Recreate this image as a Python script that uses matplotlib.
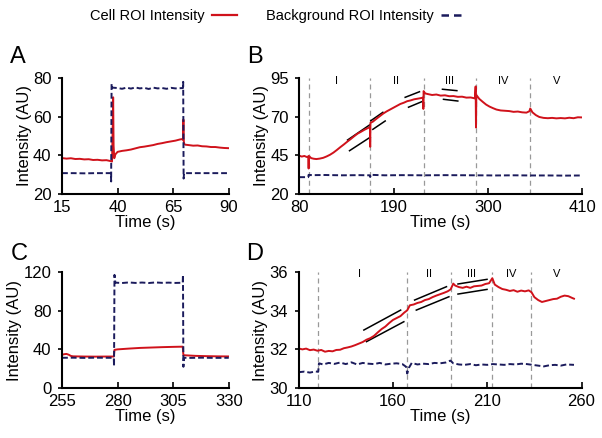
import matplotlib.pyplot as plt
from matplotlib.lines import Line2D

plt.rcParams['font.family'] = ['Liberation Sans', 'DejaVu Sans']

RED = '#d0121b'
NAVY = '#1b1b5c'

# ---- panel A (t, intensity) ----
cell_a = [(15, 38.6), (17, 38.3), (19, 38.5), (21, 38.1), (23, 38.2), (25, 37.9), (27, 38.0),
          (29, 37.6), (31, 37.7), (33, 37.4), (35, 37.5), (37, 37.0), (37.5, 36.8), (37.8, 55),
          (38.0, 70), (38.2, 45), (38.5, 38.5), (39, 40.5), (40, 41.8), (42, 42.3), (44, 42.6),
          (46, 43.0), (48, 43.6), (50, 44.2), (52, 44.5), (54, 44.9), (56, 45.3), (58, 45.9),
          (60, 46.3), (62, 46.8), (64, 47.2), (66, 47.6), (68, 48.2), (69, 48.4), (69.4, 48.0),
          (69.6, 58.5), (69.8, 47), (70, 45.8), (70.5, 45.5), (72, 45.3), (74, 45.0), (76, 45.1),
          (78, 44.7), (80, 44.6), (82, 44.3), (84, 44.3), (86, 44.0), (88, 43.8), (90, 43.7)]
back_a = [(15, 30.8), (20, 30.8), (25, 30.7), (30, 30.8), (35, 30.8), (37.0, 30.8), (37.1, 26.5),
          (37.3, 77), (37.6, 75), (40, 74.8), (42, 74.4), (44, 75.0), (46, 74.5), (48, 75.1),
          (50, 74.6), (52, 74.9), (54, 74.3), (56, 75.0), (58, 74.6), (60, 74.8), (62, 74.4),
          (64, 74.9), (66, 74.6), (68, 74.7), (69.4, 74.8), (69.5, 78), (69.7, 28), (69.9, 30.8),
          (72, 30.8), (75, 30.8), (80, 30.8), (85, 30.8), (90, 30.8)]

# ---- panel B ----
cell_b = [(80, 44.8), (83, 44.2), (86, 44.6), (89, 43.9), (90.5, 44.3), (91, 36.5), (91.5, 44.5),
          (94, 43.2), (97, 42.8), (100, 42.6), (104, 42.9), (108, 43.4), (112, 44.3), (116, 45.4),
          (120, 46.8), (124, 48.5), (128, 50.3), (132, 52.0), (136, 53.8), (140, 55.5), (144, 57.3),
          (148, 59.0), (152, 60.2), (156, 61.5), (160, 62.6), (162.5, 63.2), (162.8, 50.5),
          (163.1, 66.0), (166, 66.8), (170, 68.6), (174, 70.3), (178, 72.0), (182, 73.4),
          (186, 74.6), (190, 75.8), (194, 77.0), (198, 78.2), (202, 79.0), (206, 80.0), (210, 80.5),
          (214, 81.2), (218, 81.6), (222, 82.0), (224.5, 82.3), (224.8, 75.0), (225.1, 86.5),
          (227, 85.0), (230, 84.6), (235, 84.0), (240, 84.3), (245, 83.6), (250, 83.8), (255, 83.2),
          (260, 83.3), (265, 82.8), (270, 82.9), (275, 82.3), (280, 82.4), (285, 81.8),
          (285.8, 89.5), (286.2, 63), (286.6, 84), (290, 81.5), (294, 79.6), (298, 77.8),
          (302, 76.5), (306, 75.5), (310, 74.6), (315, 74.0), (320, 73.8), (325, 73.6), (330, 73.1),
          (335, 73.3), (340, 72.8), (345, 72.6), (348.5, 73.5), (349.5, 75.3), (352, 72.8),
          (356, 71.0), (360, 69.8), (365, 69.2), (370, 69.0), (375, 69.2), (380, 68.9), (385, 69.1),
          (390, 68.9), (395, 69.3), (400, 69.0), (405, 69.6), (410, 69.5)]
back_b = [(80, 30.9), (85, 30.9), (90.5, 30.9), (91, 32.4), (95, 32.2), (110, 32.3), (130, 32.1),
          (150, 32.2), (162.5, 32.1), (162.8, 31.0), (163.2, 32.4), (180, 32.1), (200, 32.2),
          (225, 32.1), (250, 32.2), (286, 32.1), (310, 32.0), (330, 32.1), (350, 32.0), (370, 32.0),
          (390, 31.9), (410, 32.0)]
sections_b = [91, 163, 225, 286, 349]
roman_b = [(123, 'I'), (193, 'II'), (255, 'III'), (318, 'IV'), (380, 'V')]
guides_b = [((136.4, 54.9), (162, 64.6)), ((138.7, 48.0), (162.8, 56.7)),
            ((163.6, 67.4), (177.6, 72.8)), ((165.9, 61.8), (180.3, 67.2)),
            ((203.6, 82.5), (220.3, 86.1)), ((207.5, 76.1), (223.1, 79.7)),
            ((247.1, 87.7), (263.9, 86.8)), ((248.3, 81.2), (265, 80.1))]

# ---- panel C ----
cell_c = [(255, 34.5), (256, 35.0), (257, 35.3), (258, 34.5), (259, 33.2), (260, 32.8), (265, 32.6),
          (270, 32.5), (275, 32.6), (278.3, 32.6), (278.6, 39.5), (280, 40.0), (285, 40.8),
          (290, 41.5), (295, 41.9), (300, 42.3), (305, 42.6), (309.3, 42.8), (309.6, 34.0),
          (311, 33.8), (315, 33.3), (320, 33.0), (325, 32.8), (330, 32.7)]
back_c = [(255, 31.3), (260, 31.4), (265, 31.2), (270, 31.4), (275, 31.3), (278.3, 31.3),
          (278.4, 22.5), (278.6, 117), (279, 109), (282, 108.6), (285, 109.2), (288, 108.7),
          (291, 109.1), (294, 108.6), (297, 109.2), (300, 108.8), (303, 109.0), (306, 108.7),
          (309.3, 108.9), (309.4, 117), (309.6, 22.0), (309.8, 31.3), (313, 31.2), (318, 31.4),
          (323, 31.2), (330, 31.3)]

# ---- panel D ----
cell_d = [(110, 32.05), (112, 32.00), (114, 32.04), (116, 31.96), (118, 31.99), (120, 31.93),
          (122, 31.97), (124, 31.88), (126, 31.92), (128, 31.90), (130, 31.97), (132, 31.98),
          (134, 32.06), (136, 32.10), (138, 32.15), (140, 32.22), (142, 32.30), (144, 32.38),
          (146, 32.50), (148, 32.58), (150, 32.70), (152, 32.88), (154, 33.05), (156, 33.18),
          (158, 33.36), (160, 33.52), (162, 33.62), (164, 33.72), (166, 33.90), (167.6, 34.02),
          (169, 34.28), (171, 34.32), (173, 34.40), (175, 34.45), (177, 34.55), (179, 34.60),
          (181, 34.70), (183, 34.78), (185, 34.85), (187, 34.92), (189, 35.00), (190.6, 35.10),
          (192, 35.40), (193, 35.30), (195, 35.22), (197, 35.18), (199, 35.24), (201, 35.18),
          (203, 35.26), (205, 35.28), (207, 35.30), (209, 35.38), (211, 35.42), (212.7, 35.68),
          (214, 35.35), (216, 35.22), (218, 35.12), (220, 35.08), (222, 35.02), (224, 35.06),
          (226, 34.98), (228, 35.04), (230, 35.00), (232, 35.05), (233.5, 34.95), (235, 34.70),
          (237, 34.55), (239, 34.45), (241, 34.50), (243, 34.55), (245, 34.60), (247, 34.62),
          (249, 34.72), (251, 34.78), (253, 34.75), (255, 34.66), (256, 34.62)]
back_d = [(110, 30.82), (113, 30.85), (116, 30.80), (119, 30.86), (120.4, 30.84), (120.8, 31.28),
          (123, 31.22), (126, 31.30), (129, 31.25), (132, 31.32), (135, 31.24), (138, 31.33),
          (141, 31.22), (144, 31.30), (147, 31.26), (150, 31.24), (153, 31.30), (156, 31.22),
          (159, 31.26), (162, 31.28), (165, 31.24), (167, 31.10), (167.6, 30.75), (168.5, 31.05),
          (170, 31.30), (173, 31.22), (176, 31.26), (179, 31.24), (182, 31.30), (185, 31.28),
          (188, 31.32), (190.5, 31.42), (192, 31.28), (195, 31.22), (198, 31.20), (201, 31.24),
          (204, 31.18), (207, 31.22), (210, 31.20), (213, 31.24), (216, 31.22), (219, 31.20),
          (222, 31.24), (225, 31.22), (228, 31.26), (231, 31.24), (234, 31.20), (237, 31.16),
          (240, 31.12), (243, 31.18), (246, 31.20), (249, 31.16), (252, 31.22), (256, 31.20)]
sections_d = [120.5, 167.6, 190.6, 212.7, 233.3]
roman_d = [(142.3, 'I'), (179.4, 'II'), (201.7, 'III'), (222.7, 'IV'), (246.6, 'V')]
guides_d = [((144.6, 33.0), (164.1, 34.03)), ((146.0, 32.40), (165.8, 33.43)),
            ((171.5, 34.55), (188.4, 35.24)), ((172.4, 34.03), (189.7, 34.72)),
            ((194.5, 35.38), (209.9, 35.62)), ((194.5, 34.86), (209.9, 35.10))]

FS = 12


def trace(ax, pts, **kw):
    t = [p[0] for p in pts]
    v = [p[1] for p in pts]
    ax.plot(t, v, **kw)


def style(ax, xlim, xticks, ylim, yticks, letter, lx, ly):
    ax.set_xlim(xlim)
    ax.set_ylim(ylim)
    ax.set_xticks(xticks)
    ax.set_yticks(yticks)
    for s in ['top', 'right']:
        ax.spines[s].set_visible(False)
    for s in ['left', 'bottom']:
        ax.spines[s].set_linewidth(1.5)
    ax.tick_params(axis='x', direction='in', length=4, width=1.2, labelsize=FS, pad=4)
    ax.tick_params(axis='y', direction='out', length=3, width=1.2, labelsize=FS, pad=4.5)
    ax.set_xlabel('Time (s)', fontsize=FS, labelpad=0)
    ax.set_ylabel('Intensity (AU)', fontsize=FS, labelpad=1)
    ax.text(lx, ly, letter, transform=ax.transAxes, fontsize=17, va='bottom', ha='left')


def sections(ax, xs, labels, ytxt):
    for x in xs:
        ax.axvline(x, color='#999999', lw=0.9, ls=(0, (4, 3)), zorder=0)
    for x, lab in labels:
        ax.text(x, ytxt, lab, ha='center', va='center', fontsize=8)


def guides(ax, segs):
    for (x0, y0), (x1, y1) in segs:
        ax.plot([x0, x1], [y0, y1], color='black', lw=1.1)


fig = plt.figure(figsize=(6.02, 4.38), dpi=100)
axA = fig.add_axes([0.103, 0.557, 0.277, 0.265])
axB = fig.add_axes([0.497, 0.557, 0.470, 0.265])
axC = fig.add_axes([0.103, 0.114, 0.277, 0.265])
axD = fig.add_axes([0.496, 0.114, 0.470, 0.265])

dash = (0, (3, 1.5))

trace(axA, cell_a, color=RED, lw=1.4)
trace(axA, back_a, color=NAVY, lw=1.4, ls=dash)
style(axA, (15, 90), [15, 40, 65, 90], (20, 80), [20, 40, 60, 80], 'A', -0.31, 1.086)

sections(axB, sections_b, roman_b, 93.3)
guides(axB, guides_b)
trace(axB, cell_b, color=RED, lw=1.4)
trace(axB, back_b, color=NAVY, lw=1.4, ls=dash)
style(axB, (80, 410), [80, 190, 300, 410], (20, 95), [20, 45, 70, 95], 'B', -0.184, 1.086)

trace(axC, cell_c, color=RED, lw=1.4)
trace(axC, back_c, color=NAVY, lw=1.4, ls=dash)
style(axC, (255, 330), [255, 280, 305, 330], (0, 120), [0, 40, 80, 120], 'C', -0.31, 1.06)

sections(axD, sections_d, roman_d, 35.9)
guides(axD, guides_d)
trace(axD, cell_d, color=RED, lw=1.4)
trace(axD, back_d, color=NAVY, lw=1.4, ls=dash)
style(axD, (110, 260), [110, 160, 210, 260], (30, 36), [30, 32, 34, 36], 'D', -0.184, 1.06)

handles = [Line2D([], [], color=RED, lw=1.6),
           Line2D([], [], color=NAVY, lw=1.8, ls=(0, (3, 2)))]
fig.legend(handles, ['Cell ROI Intensity', 'Background ROI Intensity'],
           loc='center', bbox_to_anchor=(0.462, 0.964), ncol=2, frameon=False,
           markerfirst=False, fontsize=10.5, handlelength=1.7, handletextpad=0.5,
           columnspacing=2.0)

fig.savefig('out.png', dpi=100)
